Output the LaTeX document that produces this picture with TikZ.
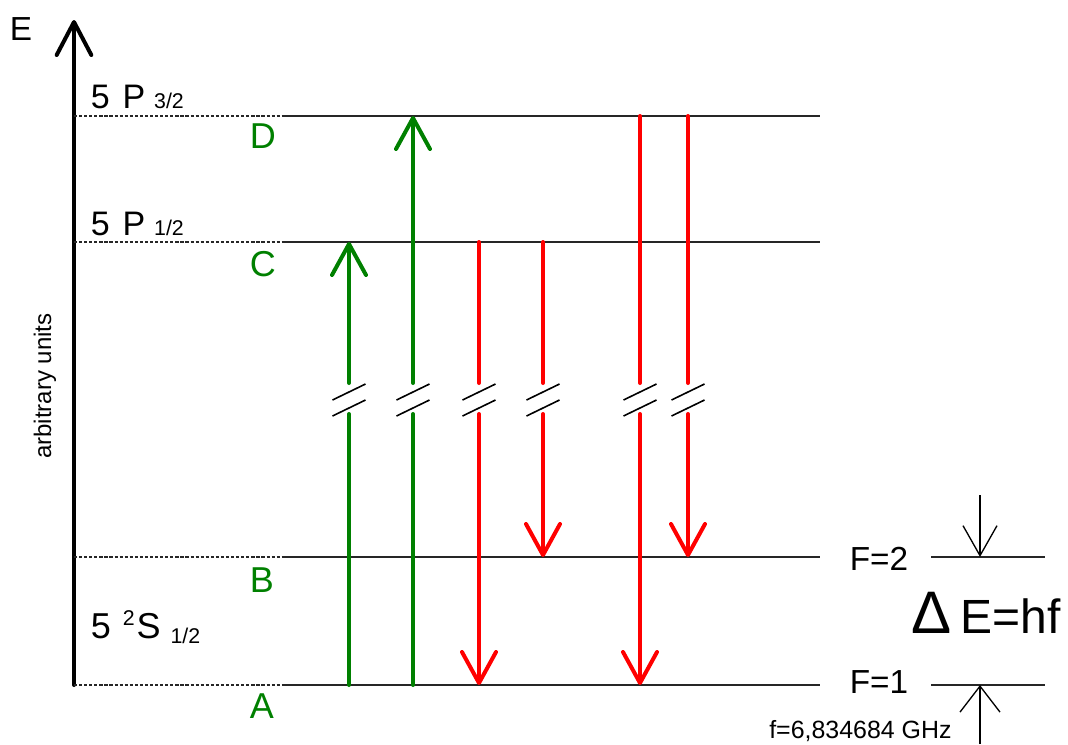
\documentclass[tikz,border=0pt]{standalone}
\usepackage{fontspec}
\setmainfont{Liberation Sans}
\usetikzlibrary{arrows.meta}
\definecolor{lvgreen}{RGB}{0,128,0}
\definecolor{lvred}{RGB}{255,0,0}
\tikzset{
  vtip/.tip={Straight Barb[length=23.25pt,width=25.5pt,round]},
  axtip/.tip={Straight Barb[length=24.75pt,width=26pt,round]},
  dntip/.tip={Straight Barb[length=22.5pt,width=25.5pt]},
  uptip/.tip={Straight Barb[length=19.5pt,width=30pt]},
  axisline/.style={line width=3pt,line cap=round,-axtip},
  levelline/.style={line width=1.1pt,draw=black!85},
  dotline/.style={line width=0.8pt,dash pattern=on 2.4pt off 1.4pt,draw=black!85},
  gline/.style={line width=3pt,draw=lvgreen,line cap=round},
  rline/.style={line width=3pt,draw=lvred,line cap=round},
  brk/.style={line width=1.2pt,draw=black},
  thinarrow/.style={line width=1pt},
  lbl/.style={inner sep=0pt,anchor=base west,font=\fontsize{25.5}{29}\selectfont},
  glbl/.style={inner sep=0pt,anchor=base west,text=lvgreen,font=\fontsize{27}{31}\selectfont},
}
\begin{document}
\begin{tikzpicture}[x=0.75pt,y=-0.75pt]
\useasboundingbox (0,0) rectangle (1068,744);
% axis
\coordinate (ax0) at (74,685);
\coordinate (ax1) at (74,20);
\draw[axisline] (ax0) -- (ax1);
\node[lbl,font=\fontsize{25}{29}\selectfont] (Elbl) at (9.5,40) {E};
\node[inner sep=0pt,rotate=90,font=\fontsize{18}{21}\selectfont] (arb) at (45,386) {arbitrary units};
% levels
\foreach \n/\y in {D/116,C/242,B/557,A/685}{
  \coordinate (\n0) at (74,\y);
  \coordinate (\n1) at (283,\y);
  \coordinate (\n2) at (820,\y);
}
\draw[dotline] (D0) -- (D1);
\draw[dotline] (C0) -- (C1);
\draw[dotline] (B0) -- (B1);
\draw[dotline] (A0) -- (A1);
\draw[levelline] (D1) -- (D2);
\draw[levelline] (C1) -- (C2);
\draw[levelline] (B1) -- (B2);
\draw[levelline] (A1) -- (A2);
% level labels
\node[lbl] (p32) at (90.5,108) {5 \kern2.6pt P \kern-0.4pt{\fontsize{16}{16}\selectfont 3/2}};
\node[lbl] (p12) at (90.5,235) {5 \kern2.6pt P \kern-0.4pt{\fontsize{16}{16}\selectfont 1/2}};
\node[lbl,font=\fontsize{27}{31}\selectfont] (s12) at (90.5,638) {5 \kern1.5pt\raisebox{9.75pt}{\fontsize{16}{16}\selectfont 2}\kern1.4pt S \raisebox{-3.75pt}{\fontsize{16}{16}\selectfont 1/2}};
\node[glbl] (Dl) at (249.5,148) {D};
\node[glbl] (Cl) at (249.5,276) {C};
\node[glbl] (Bl) at (249.5,592) {B};
\node[glbl] (Al) at (249.5,718) {A};
% transitions: x / start level y / end level y
\foreach \i/\x/\ys/\ye in {g1/349/685/242, g2/413/685/116,
    r1/479/242/685, r2/543/242/557, r3/640/116/685, r4/688/116/557}{
  \coordinate (\i s) at (\x,\ys);
  \coordinate (\i e) at (\x,\ye);
  \coordinate (\i u) at (\x,383);
  \coordinate (\i d) at (\x,414);
  \coordinate (\i m1) at (\x-16.5,400);
  \coordinate (\i m2) at (\x+16.5,384);
  \coordinate (\i m3) at (\x-16.5,416);
  \coordinate (\i m4) at (\x+16.5,400);
  \draw[brk] (\i m1) -- (\i m2);
  \draw[brk] (\i m3) -- (\i m4);
}
\draw[gline] (g1s) -- (g1d);
\draw[gline,-vtip] (g1u) -- (g1e);
\draw[gline] (g2s) -- (g2d);
\draw[gline,-vtip] (g2u) -- (g2e);
\draw[rline] (r1s) -- (r1u);
\draw[rline,-vtip] (r1d) -- (r1e);
\draw[rline] (r2s) -- (r2u);
\draw[rline,-vtip] (r2d) -- (r2e);
\draw[rline] (r3s) -- (r3u);
\draw[rline,-vtip] (r3d) -- (r3e);
\draw[rline] (r4s) -- (r4u);
\draw[rline,-vtip] (r4d) -- (r4e);
% hyperfine splitting
\coordinate (F2a) at (931,557);
\coordinate (F2b) at (1045,557);
\coordinate (F1a) at (931,685);
\coordinate (F1b) at (1045,685);
\draw[levelline] (F2a) -- (F2b);
\draw[levelline] (F1a) -- (F1b);
\node[lbl,font=\fontsize{25}{29}\selectfont] (F2l) at (849.5,570) {F=2};
\node[lbl,font=\fontsize{25}{29}\selectfont] (F1l) at (849.5,693) {F=1};
\coordinate (dn0) at (980,495);
\coordinate (dn1) at (980,557);
\coordinate (up0) at (980,744);
\coordinate (up1) at (980,685);
\draw[thinarrow,-dntip] (dn0) -- (dn1);
\draw[thinarrow,-uptip] (up0) -- (up1);
\node[lbl,font=\fontsize{36}{40}\selectfont] (dE) at (911,633) {{\fontsize{45}{45}\selectfont Δ}\kern7pt E=hf};
\node[lbl,font=\fontsize{18.7}{21}\selectfont] (freq) at (769,738) {f=6,834684 GHz};
\end{tikzpicture}
\end{document}
